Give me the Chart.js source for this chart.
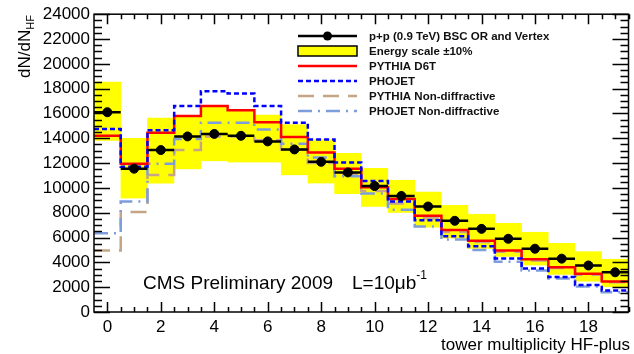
<!DOCTYPE html>
<html>
<head>
<meta charset="utf-8">
<script src="https://cdn.jsdelivr.net/npm/chart.js@4.4.1/dist/chart.umd.min.js"></script>
<style>
html, body { margin: 0; padding: 0; background: #fff; }
#wrap { width: 634px; height: 354px; }
</style>
</head>
<body>
<div id="wrap"><canvas id="chart" width="634" height="354"></canvas></div>
<script>
// tower multiplicity bins (0..19)
var bins = [0, 1, 2, 3, 4, 5, 6, 7, 8, 9, 10, 11, 12, 13, 14, 15, 16, 17, 18, 19];

// p+p (0.9 TeV) BSC OR and Vertex
var dataVals = [16100, 11550, 13050, 14150, 14350, 14200, 13750, 13100, 12100, 11250,
                10150, 9350, 8500, 7350, 6700, 5900, 5100, 4300, 3750, 3200];

// energy scale +-10% band
var bandLow  = [13800, 9150, 10350, 11500, 12150, 12050, 12050, 11030, 10360, 9500,
                8480, 8000, 6800, 5930, 5100, 4450, 3750, 3000, 2450, 2000];
var bandHigh = [18550, 14000, 15650, 15800, 16500, 16200, 15900, 15100, 13900, 12780,
                11570, 10630, 9690, 8600, 7900, 7140, 6440, 5530, 4860, 4260];

// MC predictions
var pythiaD6T = [14200, 11950, 14450, 15800, 16600, 16250, 15300, 14100, 12850, 11550,
                 10050, 9100, 7750, 6600, 5750, 4950, 4250, 3600, 3080, 2450];
var phojet    = [14750, 11700, 14650, 16600, 17800, 17600, 16600, 15250, 13900, 12050,
                 10550, 8900, 7400, 6100, 5300, 4320, 3500, 2820, 2170, 1740];
var pythiaND  = [4950, 8050, 11050, 13050, 14150, 14150, 13850, 13100, 12000, 11100,
                 9750, 8750, 7550, 6450, 5650, 4850, 4150, 3550, 3000, 2400];
var phojetND  = [6350, 8900, 11950, 13950, 15250, 15250, 14700, 13550, 12450, 10950,
                 9550, 8250, 6900, 5850, 5000, 4050, 3350, 2700, 2050, 1600];

var xTicks = [0, 2, 4, 6, 8, 10, 12, 14, 16, 18];
var yTicks = [0, 2000, 4000, 6000, 8000, 10000, 12000, 14000, 16000, 18000, 20000, 22000, 24000];

var FONT = "'Liberation Sans', Arial, Helvetica, sans-serif";

// histogram outline: each bin becomes a flat segment between its edges
function steps(vals) {
    var pts = [];
    vals.forEach(function(v, i) {
        pts.push({x: bins[i] - 0.5, y: v});
        pts.push({x: bins[i] + 0.5, y: v});
    });
    return pts;
}

function stepLine(label, vals, color, dash, order) {
    return {
        type: 'line', label: label, data: steps(vals),
        borderColor: color, borderWidth: 2.5, borderDash: dash,
        pointRadius: 0, fill: false, tension: 0, order: order
    };
}

var datasets = [
    {
        type: 'line', label: 'p+p (0.9 TeV) BSC OR and Vertex',
        data: bins.map(function(b, i) { return {x: b, y: dataVals[i]}; }),
        showLine: false, pointRadius: 4.5, pointBackgroundColor: '#000',
        pointBorderColor: '#000', borderColor: '#000', order: 0
    },
    stepLine('PHOJET', phojet, '#0000ff', [5, 3], 1),
    stepLine('PYTHIA D6T', pythiaD6T, '#ff0000', [], 2),
    stepLine('PHOJET Non-diffractive', phojetND, '#7e9ddc', [14, 6, 2, 6], 3),
    stepLine('PYTHIA Non-diffractive', pythiaND, '#c4a585', [16, 9], 4),
    {
        type: 'bar', label: 'Energy scale \u00b110%',
        data: bins.map(function(b, i) { return {x: b, y: [bandLow[i], bandHigh[i]]}; }),
        backgroundColor: '#ffff00', borderColor: '#ffff00', borderWidth: 0.5,
        barPercentage: 1, categoryPercentage: 1, order: 5
    }
];

var histoPlugin = {
    id: 'histo',
    beforeDatasetDraw: function(chart, args) {
        if (args.index !== 0) return;
        // horizontal error bars (bin width) under the data markers
        var ctx = chart.ctx, xs = chart.scales.x, ys = chart.scales.y;
        ctx.save();
        ctx.strokeStyle = '#000';
        ctx.lineWidth = 2.5;
        ctx.beginPath();
        bins.forEach(function(b, i) {
            var y = ys.getPixelForValue(dataVals[i]);
            ctx.moveTo(xs.getPixelForValue(b - 0.5), y);
            ctx.lineTo(xs.getPixelForValue(b + 0.5), y);
        });
        ctx.stroke();
        ctx.restore();
    },
    afterDraw: function(chart) {
        var ctx = chart.ctx, a = chart.chartArea, xs = chart.scales.x, ys = chart.scales.y;
        ctx.save();
        // frame
        ctx.strokeStyle = '#000';
        ctx.lineWidth = 1.5;
        ctx.strokeRect(a.left, a.top, a.right - a.left, a.bottom - a.top);
        // inside ticks on all four sides
        ctx.beginPath();
        var v, p, len;
        for (v = 0; v <= 24000; v += 500) {
            p = Math.round(ys.getPixelForValue(v)) + 0.5;
            len = (v % 2000 === 0) ? 16 : 8;
            ctx.moveTo(a.left, p); ctx.lineTo(a.left + len, p);
            ctx.moveTo(a.right, p); ctx.lineTo(a.right - len, p);
        }
        for (v = 0; v <= 19.5; v += 0.5) {
            p = Math.round(xs.getPixelForValue(v)) + 0.5;
            len = (v % 2 === 0) ? 10 : 5;
            ctx.moveTo(p, a.bottom); ctx.lineTo(p, a.bottom - len);
            ctx.moveTo(p, a.top); ctx.lineTo(p, a.top + len);
        }
        ctx.stroke();

        // axis titles
        ctx.fillStyle = '#000';
        ctx.font = '17px ' + FONT;
        ctx.textAlign = 'right';
        ctx.textBaseline = 'alphabetic';
        ctx.fillText('tower multiplicity HF-plus', 630, 350);

        ctx.save();
        ctx.translate(30, 78);
        ctx.rotate(-Math.PI / 2);
        ctx.textAlign = 'left';
        ctx.font = '17px ' + FONT;
        ctx.fillText('dN/dN', 0, 0);
        var w = ctx.measureText('dN/dN').width;
        ctx.font = '11px ' + FONT;
        ctx.fillText('HF', w, 4);
        ctx.restore();

        // CMS label
        ctx.textAlign = 'left';
        ctx.font = '19px ' + FONT;
        ctx.fillText('CMS Preliminary 2009', 143, 289);
        ctx.fillText('L=10\u03bcb', 352, 289);
        var lw = ctx.measureText('L=10\u03bcb').width;
        ctx.font = '12px ' + FONT;
        ctx.fillText('-1', 352 + lw, 279);

        // legend
        var rows = [36, 51, 66, 81, 96, 111];
        var x0 = 298, x1 = 357, tx = 369;
        var ds = chart.data.datasets;
        var entries = [ds[0], ds[5], ds[2], ds[1], ds[4], ds[3]];
        ctx.font = 'bold 11.5px ' + FONT;
        entries.forEach(function(d, i) {
            var y = rows[i];
            if (d.type === 'bar') {
                ctx.fillStyle = d.backgroundColor;
                ctx.fillRect(x0, y - 5, x1 - x0, 10);
                ctx.strokeStyle = '#000';
                ctx.lineWidth = 1.5;
                ctx.setLineDash([]);
                ctx.strokeRect(x0, y - 5, x1 - x0, 10);
            } else if (d.showLine === false) {
                ctx.strokeStyle = '#000';
                ctx.lineWidth = 2.5;
                ctx.setLineDash([]);
                ctx.beginPath(); ctx.moveTo(x0, y); ctx.lineTo(x1, y); ctx.stroke();
                ctx.fillStyle = '#000';
                ctx.beginPath(); ctx.arc((x0 + x1) / 2, y, 4.5, 0, Math.PI * 2); ctx.fill();
            } else {
                ctx.strokeStyle = d.borderColor;
                ctx.lineWidth = d.borderWidth;
                ctx.setLineDash(d.borderDash);
                ctx.beginPath(); ctx.moveTo(x0, y); ctx.lineTo(x1, y); ctx.stroke();
                ctx.setLineDash([]);
            }
            ctx.fillStyle = '#111';
            ctx.fillText(d.label, tx, y + 4);
        });
        ctx.restore();
    }
};

new Chart(document.getElementById('chart'), {
    type: 'line',
    data: { datasets: datasets },
    options: {
        responsive: false,
        animation: false,
        layout: { padding: { left: 0, right: 4, top: 14, bottom: 0 } },
        plugins: { legend: { display: false }, tooltip: { enabled: false } },
        scales: {
            x: {
                type: 'linear', min: -0.5, max: 19.5, offset: false,
                grid: { display: false, drawTicks: false, offset: false }, border: { display: false },
                afterBuildTicks: function(s) { s.ticks = xTicks.map(function(v) { return {value: v}; }); },
                afterFit: function(s) { s.height = 42; },
                ticks: { color: '#000', padding: 5, maxRotation: 0, autoSkip: false,
                         font: { family: FONT, size: 17 } }
            },
            y: {
                min: 0, max: 24000,
                grid: { display: false, drawTicks: false }, border: { display: false },
                afterBuildTicks: function(s) { s.ticks = yTicks.map(function(v) { return {value: v}; }); },
                afterFit: function(s) { s.width = 94; },
                ticks: { color: '#000', padding: 4, autoSkip: false,
                         font: { family: FONT, size: 17 },
                         callback: function(v) { return String(v); } }
            }
        }
    },
    plugins: [histoPlugin]
});
</script>
</body>
</html>
